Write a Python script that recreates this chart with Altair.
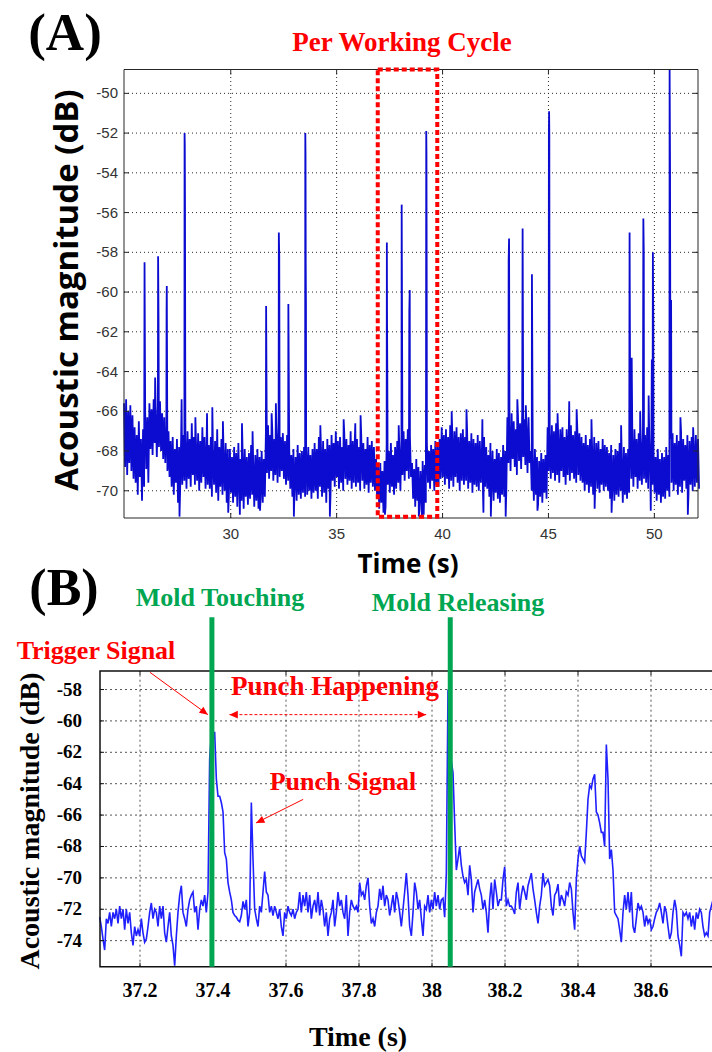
import altair as alt
import pandas as pd

SERIF = "Liberation Serif"
SANS = "Liberation Sans"
TITLE_SANS = "Open Sans"
RED = "#ff0000"
GREEN = "#00a651"

# ------------------------------------------------------------------
# (A) acoustic magnitude over several working cycles
# ------------------------------------------------------------------
A_START = 24.96   # s, first envelope sample
A_STEP = 0.1      # s between envelope samples (upper at t, lower at t + step/2)
A_UPPER = [
    -65.6, -65.4, -66.0, -65.7, -66.2, -66.8, -67.2, -66.5, -67.4, -66.9,
    -66.0, -66.3, -65.6, -65.9, -65.4, -66.0, -65.7, -65.5, -66.1, -66.3,
    -66.8, -67.0, -67.5, -67.3, -67.9, -67.4, -67.8, -67.2, -67.2, -67.4,
    -67.0, -67.4, -66.6, -67.3, -67.6, -67.1, -67.5, -66.8, -67.3, -67.6,
    -67.7, -67.3, -67.9, -67.5, -66.9, -67.8, -67.4, -68.0, -67.6, -67.9,
    -67.9, -68.3, -67.8, -68.1, -67.6, -68.4, -68.0, -67.9, -68.3, -68.1,
    -67.7, -68.5, -68.2, -67.9, -68.3, -68.0, -68.4, -67.0, -66.7, -67.2,
    -66.9, -67.4, -67.0, -66.6, -67.3, -67.1, -67.5, -67.2, -67.8, -68.2,
    -67.9, -68.3, -67.7, -68.1, -68.0, -67.8, -68.0, -67.8, -68.2, -67.9,
    -67.6, -67.9, -67.3, -67.8, -67.5, -67.9, -67.4, -67.7, -67.2, -67.6,
    -67.0, -67.5, -67.3, -67.8, -67.1, -67.4, -67.7, -67.0, -67.5, -67.3,
    -67.4, -67.8, -67.2, -67.6, -67.9, -67.3, -67.7, -67.5, -67.8, -68.4,
    -68.8, -68.6, -69.0, -68.5, -67.7, -68.0, -67.6, -68.2, -67.8, -67.5,
    -67.9, -67.2, -67.0, -67.4, -66.9, -67.3, -68.6, -68.9, -68.4, -68.8,
    -69.0, -68.5, -68.7, -67.6, -68.0, -67.7, -67.9, -67.5, -67.8, -67.4,
    -66.8, -67.2, -66.9, -67.3, -66.7, -67.1, -67.0, -66.8, -67.3, -67.1,
    -66.9, -67.3, -67.0, -67.5, -67.1, -67.4, -67.6, -67.2, -67.5, -67.8,
    -67.3, -67.8, -68.2, -67.6, -68.0, -68.4, -67.9, -68.1, -68.3, -67.7,
    -68.0, -66.3, -66.7, -66.1, -66.5, -66.9, -66.2, -66.6, -66.0, -66.4,
    -66.7, -66.3, -68.0, -68.4, -67.9, -68.3, -68.5, -68.1, -68.4, -68.2,
    -66.8, -67.1, -66.7, -67.0, -66.6, -67.2, -66.9, -66.8, -67.3, -66.9,
    -67.0, -66.7, -67.2, -67.0, -66.8, -67.1, -67.3, -67.6, -67.2, -67.7,
    -67.4, -67.8, -67.3, -67.6, -67.5, -67.9, -67.4, -67.7, -67.8, -68.1,
    -67.7, -68.2, -67.9, -68.0, -67.6, -68.3, -67.8, -68.1, -67.9, -67.0,
    -67.3, -66.9, -67.4, -67.1, -67.5, -67.0, -67.2, -66.8, -67.3, -67.1,
    -68.0, -68.3, -67.9, -68.4, -68.1, -68.3, -67.8, -68.2, -67.4, -67.1,
    -67.6, -67.2, -67.5, -67.0, -67.4, -67.7, -67.2, -67.5, -67.3, -67.6,
    -67.2, -67.4,
]
A_LOWER = [
    -68.8, -69.2, -68.6, -69.0, -69.4, -69.6, -70.2, -69.3, -70.5, -69.8,
    -68.9, -69.6, -67.9, -68.2, -67.6, -68.3, -67.8, -68.0, -68.4, -68.6,
    -69.0, -69.3, -69.8, -70.2, -69.6, -70.6, -70.0, -69.7, -69.5, -69.9,
    -69.4, -69.8, -69.2, -69.7, -69.5, -70.0, -69.6, -69.3, -69.9, -69.7,
    -69.9, -70.3, -69.7, -70.1, -70.5, -69.8, -70.2, -70.0, -70.6, -70.3,
    -70.1, -70.6, -70.3, -70.8, -70.2, -70.5, -70.9, -70.3, -70.7, -70.4,
    -70.2, -70.8, -70.5, -70.9, -70.4, -70.6, -70.3, -69.1, -69.4, -69.0,
    -69.5, -69.2, -69.6, -69.3, -69.0, -69.4, -69.7, -69.5, -69.9, -70.3,
    -70.0, -70.5, -70.2, -70.4, -70.1, -70.3, -70.2, -70.0, -70.4, -70.1,
    -70.0, -70.4, -69.8, -70.3, -70.1, -70.6, -69.9, -70.2, -69.5, -69.8,
    -69.3, -69.9, -69.6, -70.0, -69.4, -69.7, -69.5, -69.9, -69.6, -69.8,
    -69.6, -70.0, -69.5, -69.9, -69.7, -70.1, -69.6, -69.8, -70.0, -70.4,
    -70.9, -70.6, -71.1, -70.8, -69.7, -70.1, -69.8, -70.2, -69.9, -69.6,
    -70.0, -69.2, -69.5, -69.0, -69.4, -69.3, -70.4, -70.8, -70.5, -71.0,
    -70.7, -71.2, -70.6, -69.6, -69.9, -69.5, -70.0, -69.7, -69.8, -69.4,
    -69.3, -69.7, -69.4, -69.9, -69.5, -69.8, -69.3, -69.6, -70.0, -69.5,
    -69.7, -69.5, -69.9, -69.6, -70.1, -69.7, -69.8, -70.0, -69.6, -70.2,
    -69.8, -69.9, -70.3, -70.0, -70.5, -70.1, -70.4, -70.6, -70.2, -70.3,
    -70.0, -68.6, -69.0, -68.4, -68.8, -69.2, -68.5, -68.9, -68.3, -68.7,
    -69.1, -68.6, -70.0, -70.5, -70.2, -70.7, -70.3, -70.6, -70.1, -70.4,
    -69.0, -69.4, -69.1, -69.5, -69.2, -69.6, -69.0, -69.3, -69.7, -69.2,
    -69.5, -69.1, -69.4, -69.6, -69.2, -69.5, -69.6, -70.0, -69.7, -70.1,
    -69.8, -70.2, -69.6, -69.9, -70.1, -69.7, -70.0, -69.8, -70.0, -70.4,
    -70.1, -70.5, -70.2, -70.3, -70.0, -70.6, -70.2, -70.4, -70.1, -69.4,
    -69.8, -69.3, -69.9, -69.5, -69.7, -69.4, -69.6, -69.9, -69.5, -69.7,
    -70.1, -70.5, -70.2, -70.6, -70.3, -70.4, -70.0, -70.3, -69.6, -70.0,
    -69.7, -70.2, -69.8, -70.1, -69.5, -69.9, -70.2, -69.7, -70.0, -69.8,
    -69.6, -69.9,
]
# isolated peaks and dips of the recording (time s, magnitude dB)
A_PEAK_T = [
    25.93, 26.43, 26.57, 26.59, 26.97, 26.98, 27.58, 27.68, 27.82, 27.83,
    27.84, 27.85, 28.33, 28.88, 29.13, 29.63, 29.88, 30.43, 30.53, 31.03,
    31.38, 31.67, 31.93, 32.13, 32.27, 32.29, 32.72, 32.98, 33.52, 33.53,
    33.54, 33.55, 34.23, 34.68, 35.33, 35.88, 36.13, 37.28, 37.37, 37.38,
    37.39, 37.93, 38.07, 38.43, 38.45, 38.88, 39.03, 39.22, 39.23, 39.24,
    39.25, 40.43, 41.13, 41.88, 41.93, 42.28, 42.98, 43.12, 43.14, 43.53,
    43.78, 43.80, 43.93, 44.22, 44.48, 45.02, 45.03, 45.04, 45.05, 45.43,
    45.98, 46.33, 47.03, 47.18, 47.98, 48.43, 48.83, 48.93, 49.33, 49.48,
    49.50, 49.73, 49.83, 49.88, 49.93, 49.95, 50.72, 50.74, 50.79, 51.23,
    51.58, 51.83,
]
A_PEAK_V = [
    -58.5, -64.3, -58.2, -61.3, -61.0, -59.7, -71.3, -65.4, -52.0, -52.6,
    -55.6, -63.0, -66.3, -66.1, -65.8, -66.5, -71.1, -71.2, -66.6, -67.0,
    -71.0, -60.7, -66.1, -65.6, -57.0, -58.2, -60.6, -71.3, -52.0, -53.1,
    -58.7, -60.5, -66.7, -71.3, -66.4, -66.6, -66.2, -71.2, -57.5, -61.6,
    -63.7, -66.7, -55.6, -61.0, -59.9, -71.3, -71.3, -65.0, -51.9, -53.0,
    -58.6, -66.0, -65.9, -66.4, -71.1, -71.3, -71.3, -58.4, -57.3, -65.4,
    -56.8, -63.6, -65.7, -59.1, -71.0, -52.0, -50.9, -52.0, -63.6, -66.1,
    -65.5, -65.9, -66.4, -70.9, -71.1, -66.7, -57.0, -63.3, -66.0, -56.3,
    -58.1, -65.2, -71.0, -63.4, -58.0, -61.4, -48.8, -53.8, -60.4, -66.3,
    -71.2, -66.8,
]
A_X_TICKS = [30, 35, 40, 45, 50]
A_Y_TICKS = [-70, -68, -66, -64, -62, -60, -58, -56, -54, -52, -50]
A_X_DOMAIN = [24.96, 52.06]
A_Y_DOMAIN = [-71.37, -48.8]
CYCLE_WINDOW = [36.94, 39.75]   # s, one working cycle
CYCLE_FLOOR = -71.31

# ------------------------------------------------------------------
# (B) one working cycle, sampled at B_RATE
# ------------------------------------------------------------------
B_START = 37.0895
B_RATE = 219.0
B_DB = [
    -72.5, -73.1, -73.9, -74.6, -72.6, -72.9, -72.2, -73.1, -72.2, -72.6,
    -72.0, -72.9, -71.8, -72.6, -72.0, -73.3, -72.0, -72.9, -72.2, -73.5,
    -74.3, -73.1, -73.7, -73.3, -73.7, -72.6, -73.5, -74.1, -73.9, -73.1,
    -72.2, -71.6, -72.6, -72.0, -72.2, -73.1, -71.8, -72.6, -71.8, -73.5,
    -74.1, -73.1, -72.2, -73.7, -74.3, -75.6, -73.7, -72.2, -71.1, -70.5,
    -72.2, -72.6, -73.1, -72.0, -71.4, -71.1, -70.9, -72.2, -71.8, -73.3,
    -72.0, -71.4, -71.8, -71.1, -72.2, -70.9, -62.4, -60.9, -61.2, -60.7,
    -63.7, -64.8, -64.8, -65.2, -65.8, -68.4, -68.8, -70.3, -70.9, -71.4,
    -72.2, -72.4, -72.5, -72.7, -72.8, -72.4, -71.5, -72.0, -71.4, -73.1,
    -72.2, -65.2, -68.8, -72.0, -72.6, -73.1, -71.8, -72.2, -70.9, -69.6,
    -70.9, -71.1, -72.2, -71.8, -72.4, -71.8, -72.2, -72.6, -72.0, -73.1,
    -73.7, -72.2, -72.6, -71.8, -72.2, -72.4, -72.0, -72.6, -72.2, -72.0,
    -70.9, -72.2, -71.1, -71.8, -70.9, -72.2, -71.1, -72.6, -71.8, -71.4,
    -72.2, -70.9, -72.4, -71.4, -72.0, -73.1, -72.2, -73.7, -72.6, -72.2,
    -71.4, -73.1, -72.2, -70.9, -71.8, -71.4, -72.2, -72.6, -71.1, -73.7,
    -72.2, -71.4, -71.8, -72.0, -71.8, -72.2, -70.3, -71.1, -70.9, -71.4,
    -70.5, -70.0, -71.8, -72.9, -72.6, -73.1, -72.2, -71.8, -70.7, -71.4,
    -70.5, -71.8, -71.1, -71.4, -72.4, -71.8, -71.1, -72.2, -70.9, -71.4,
    -72.2, -73.1, -72.0, -70.9, -69.7, -71.1, -73.1, -73.7, -72.2, -70.3,
    -70.9, -72.0, -71.4, -72.6, -73.7, -71.8, -72.0, -71.1, -72.2, -71.4,
    -72.0, -70.9, -71.8, -71.1, -72.0, -71.4, -71.3, -72.5, -69.7, -58.0,
    -61.6, -62.6, -63.3, -66.5, -69.5, -68.8, -68.0, -69.2, -69.9, -70.3,
    -70.1, -71.1, -69.2, -70.1, -72.2, -70.9, -70.5, -70.1, -70.7, -71.1,
    -72.0, -71.4, -72.2, -73.5, -71.4, -70.3, -72.0, -70.1, -70.9, -71.8,
    -71.4,
    -71.4, -70.1, -69.3, -71.8, -71.4, -71.8, -71.8, -72.0, -72.3, -70.9,
    -70.3, -72.0, -71.1, -70.5, -70.9, -71.4, -70.5, -70.1, -69.7, -70.7,
    -71.4, -72.2, -72.9, -71.8, -71.1, -69.7, -70.5, -70.3, -70.1, -70.5,
    -71.8, -72.4, -71.1, -70.9, -70.4, -71.8, -71.1, -71.4, -71.8, -70.9,
    -71.1, -70.3, -70.7, -72.2, -73.3, -70.1, -68.8, -68.0, -68.6, -68.8,
    -69.0, -67.1, -65.0, -64.1, -64.3, -63.7, -63.4, -65.8, -66.0, -66.5,
    -67.1, -67.1, -68.0, -61.5, -63.7, -68.8, -68.2, -69.5, -72.2, -72.4,
    -72.6, -73.3, -74.1, -72.2, -71.1, -72.0, -70.9, -72.2, -70.9, -73.1,
    -73.5, -72.6, -71.6, -72.0, -71.8, -72.2, -73.1, -72.4, -72.9, -72.6,
    -73.3, -73.1, -72.6, -72.2, -72.0, -71.6, -72.2, -72.9, -71.8, -72.2,
    -73.1, -73.9, -73.5, -72.2, -71.4, -72.0, -73.7, -74.3, -75.0, -72.2,
    -72.4, -72.2, -72.6, -72.2, -73.1, -72.4, -73.3, -72.2, -72.6, -72.0,
    -72.2, -73.1, -73.7, -73.5, -73.7, -72.2, -71.8, -71.4,
]
B_X_TICKS = [37.2, 37.4, 37.6, 37.8, 38.0, 38.2, 38.4, 38.6]
B_Y_TICKS = [-74, -72, -70, -68, -66, -64, -62, -60, -58]
B_X_DOMAIN = [37.0904, 38.80]
B_Y_DOMAIN = [-75.66, -56.82]
MOLD_TOUCH = 37.397
MOLD_RELEASE = 38.05
MARKER_TOP = -53.4          # marker lines rise above the axes
TRIGGER_FROM, TRIGGER_TIP = (37.227, -56.9), (37.386, -59.6)
SPAN_FROM, SPAN_TO, SPAN_LEVEL = 37.445, 37.984, -59.6
PUNCH_FROM, PUNCH_TIP = (37.647, -65.0), (37.518, -66.5)

# ------------------------------------------------------------------
# scales: both panels share one canvas, each with its own pixel range
# ------------------------------------------------------------------
XA = alt.Scale(domain=A_X_DOMAIN, range=[124, 698], nice=False, zero=False)
YA = alt.Scale(domain=A_Y_DOMAIN, range=[518, 69.5], nice=False, zero=False)
XB = alt.Scale(domain=B_X_DOMAIN, range=[100, 724], nice=False, zero=False)
YB = alt.Scale(domain=B_Y_DOMAIN, range=[966.7, 671], nice=False, zero=False)


def px_to_units(scale, px):
    lo, hi = scale.domain
    r0, r1 = scale.range
    return px * (hi - lo) / abs(r1 - r0)


def xq(field, sc):
    return alt.X(field, type="quantitative", scale=sc, axis=None)


def yq(field, sc):
    return alt.Y(field, type="quantitative", scale=sc, axis=None)


def panel_frame(xs, ys, x_ticks, y_ticks, grid_color, dash, frame_color, frame_w, tick_px):
    xlo, xhi = xs.domain
    ylo, yhi = ys.domain
    vgrid = pd.DataFrame({"t": x_ticks, "lo": ylo, "hi": yhi})
    hgrid = pd.DataFrame({"v": y_ticks, "lo": xlo, "hi": xhi})
    grid_v = alt.Chart(vgrid).mark_rule(color=grid_color, strokeWidth=1, strokeDash=dash).encode(
        x=xq("t", xs), y=yq("lo", ys), y2="hi")
    grid_h = alt.Chart(hgrid).mark_rule(color=grid_color, strokeWidth=1, strokeDash=dash).encode(
        y=yq("v", ys), x=xq("lo", xs), x2="hi")
    frame = alt.Chart(pd.DataFrame({"x0": [xlo], "x1": [xhi], "y0": [ylo], "y1": [yhi]})).mark_rect(
        fillOpacity=0, stroke=frame_color, strokeWidth=frame_w).encode(
        x=xq("x0", xs), x2="x1", y=yq("y0", ys), y2="y1")
    dx = px_to_units(xs, tick_px)
    dy = px_to_units(ys, tick_px)
    tick_rows = []
    for t in x_ticks:
        tick_rows.append({"x0": t, "x1": t, "y0": ylo, "y1": ylo + dy})
        tick_rows.append({"x0": t, "x1": t, "y0": yhi - dy, "y1": yhi})
    for v in y_ticks:
        tick_rows.append({"x0": xlo, "x1": xlo + dx, "y0": v, "y1": v})
        tick_rows.append({"x0": xhi - dx, "x1": xhi, "y0": v, "y1": v})
    ticks = alt.Chart(pd.DataFrame(tick_rows)).mark_rule(color=frame_color, strokeWidth=1).encode(
        x=xq("x0", xs), x2="x1", y=yq("y0", ys), y2="y1")
    return [grid_v, grid_h], [frame, ticks]


# ---------------- panel A ----------------
rows = []
for i, (hi, lo) in enumerate(zip(A_UPPER, A_LOWER)):
    t = A_START + i * A_STEP
    rows.append((t, hi))
    rows.append((t + A_STEP / 2, lo))
rows += list(zip(A_PEAK_T, A_PEAK_V))
a_df = pd.DataFrame(rows, columns=["t", "db"]).sort_values("t", kind="mergesort")

a_grid, a_frame = panel_frame(XA, YA, A_X_TICKS, A_Y_TICKS, "#2a2a2a", [1, 3], "#262626", 1, 5)
a_line = alt.Chart(a_df).mark_line(color="#0c0cd0", strokeWidth=1.8, strokeJoin="bevel").encode(
    x=xq("t", XA), y=yq("db", YA))
a_box = alt.Chart(pd.DataFrame({"x0": [CYCLE_WINDOW[0]], "x1": [CYCLE_WINDOW[1]],
                                "y0": [CYCLE_FLOOR], "y1": [A_Y_DOMAIN[1]]})).mark_rect(
    fillOpacity=0, stroke=RED, strokeWidth=4, strokeDash=[5, 3]).encode(
    x=xq("x0", XA), x2="x1", y=yq("y0", YA), y2="y1")
a_ylab = alt.Chart(pd.DataFrame({"v": A_Y_TICKS, "s": [str(v) for v in A_Y_TICKS]})).mark_text(
    x=118, align="right", baseline="middle", font=SANS, fontSize=15, color="#333333").encode(
    y=yq("v", YA), text="s:N")
a_xlab = alt.Chart(pd.DataFrame({"t": A_X_TICKS, "s": [str(v) for v in A_X_TICKS]})).mark_text(
    y=534, align="center", baseline="middle", font=SANS, fontSize=15, color="#333333").encode(
    x=xq("t", XA), text="s:N")
panel_a = alt.layer(*a_grid, a_line, *a_frame, a_box, a_ylab, a_xlab)

# ---------------- panel B ----------------
b_df = pd.DataFrame({"t": [B_START + k / B_RATE for k in range(len(B_DB))], "db": B_DB})
b_grid, b_frame = panel_frame(XB, YB, B_X_TICKS, B_Y_TICKS, "#555555", [2, 3], "#111111", 1.5, 4)
b_line = alt.Chart(b_df).mark_line(color="#2020ff", strokeWidth=1.6).encode(
    x=xq("t", XB), y=yq("db", YB))
b_marks = alt.Chart(pd.DataFrame({"t": [MOLD_TOUCH, MOLD_RELEASE], "lo": B_Y_DOMAIN[0],
                                  "hi": MARKER_TOP})).mark_rule(color=GREEN, strokeWidth=5).encode(
    x=xq("t", XB), y=yq("lo", YB), y2="hi")

ARROW = "M0,0L-1,-0.45L-1,0.45Z"


def arrow_line(x0, y0, x1, y1, dash=None):
    kw = {"color": RED, "strokeWidth": 1}
    if dash:
        kw["strokeDash"] = dash
    return alt.Chart(pd.DataFrame({"x0": [x0], "x1": [x1], "y0": [y0], "y1": [y1]})).mark_rule(**kw).encode(
        x=xq("x0", XB), x2="x1", y=yq("y0", YB), y2="y1")


def arrow_head(x, y, angle):
    return alt.Chart(pd.DataFrame({"x": [x], "y": [y]})).mark_point(
        shape=ARROW, filled=True, size=280, color=RED, opacity=1, strokeWidth=0, angle=angle).encode(
        x=xq("x", XB), y=yq("y", YB))


b_arrows = [
    arrow_line(*TRIGGER_FROM, *TRIGGER_TIP), arrow_head(*TRIGGER_TIP, 36),
    arrow_line(SPAN_FROM, SPAN_LEVEL, SPAN_TO, SPAN_LEVEL, dash=[3, 2]),
    arrow_head(SPAN_FROM, SPAN_LEVEL, 180), arrow_head(SPAN_TO, SPAN_LEVEL, 0),
    arrow_line(*PUNCH_FROM, *PUNCH_TIP), arrow_head(*PUNCH_TIP, 154),
]
b_ylab = alt.Chart(pd.DataFrame({"v": B_Y_TICKS, "s": [str(v) for v in B_Y_TICKS]})).mark_text(
    x=82, align="right", baseline="middle", font=SERIF, fontWeight="bold", fontSize=19, color="black").encode(
    y=yq("v", YB), text="s:N")
b_xlab = alt.Chart(pd.DataFrame({"t": B_X_TICKS, "s": [f"{v:g}" for v in B_X_TICKS]})).mark_text(
    y=997, align="center", baseline="alphabetic", font=SERIF, fontWeight="bold", fontSize=20, color="black").encode(
    x=xq("t", XB), text="s:N")
panel_b = alt.layer(*b_grid, b_line, *b_frame, b_marks, *b_arrows, b_ylab, b_xlab)


# ---------------- titles and annotations ----------------
def note(text, x, y, size, color="black", font=SERIF, angle=0, baseline="alphabetic"):
    return alt.Chart(pd.DataFrame({"s": [text]})).mark_text(
        x=x, y=y, fontSize=size, font=font, fontWeight="bold", color=color,
        angle=angle, align="center", baseline=baseline).encode(text="s:N")


notes = [
    note("(A)", 65, 50, 53),
    note("Per Working Cycle", 402, 51, 27, RED),
    note("Acoustic magnitude (dB)", 68, 290, 33, font=TITLE_SANS, angle=270, baseline="middle"),
    note("Time (s)", 408, 565, 26, font=TITLE_SANS, baseline="middle"),
    note("(B)", 64, 605, 52),
    note("Mold Touching", 220, 606, 26, GREEN),
    note("Mold Releasing", 458, 611, 26, GREEN),
    note("Trigger Signal", 96, 659, 26, RED),
    note("Punch Happening", 335, 695, 27, RED),
    note("Punch Signal", 343, 790, 26, RED),
    note("Acoustic magnitude (dB)", 31, 821, 28, angle=270, baseline="middle"),
    note("Time (s)", 358, 1046, 28),
]

chart = alt.layer(panel_a, panel_b, *notes).resolve_scale(
    x="independent", y="independent"
).properties(
    width=712, height=1052, autosize=alt.AutoSizeParams(type="none"), padding=0, background="white"
).configure_view(strokeWidth=0)

chart.save("out.html", embed_options={"renderer": "svg", "actions": False})
